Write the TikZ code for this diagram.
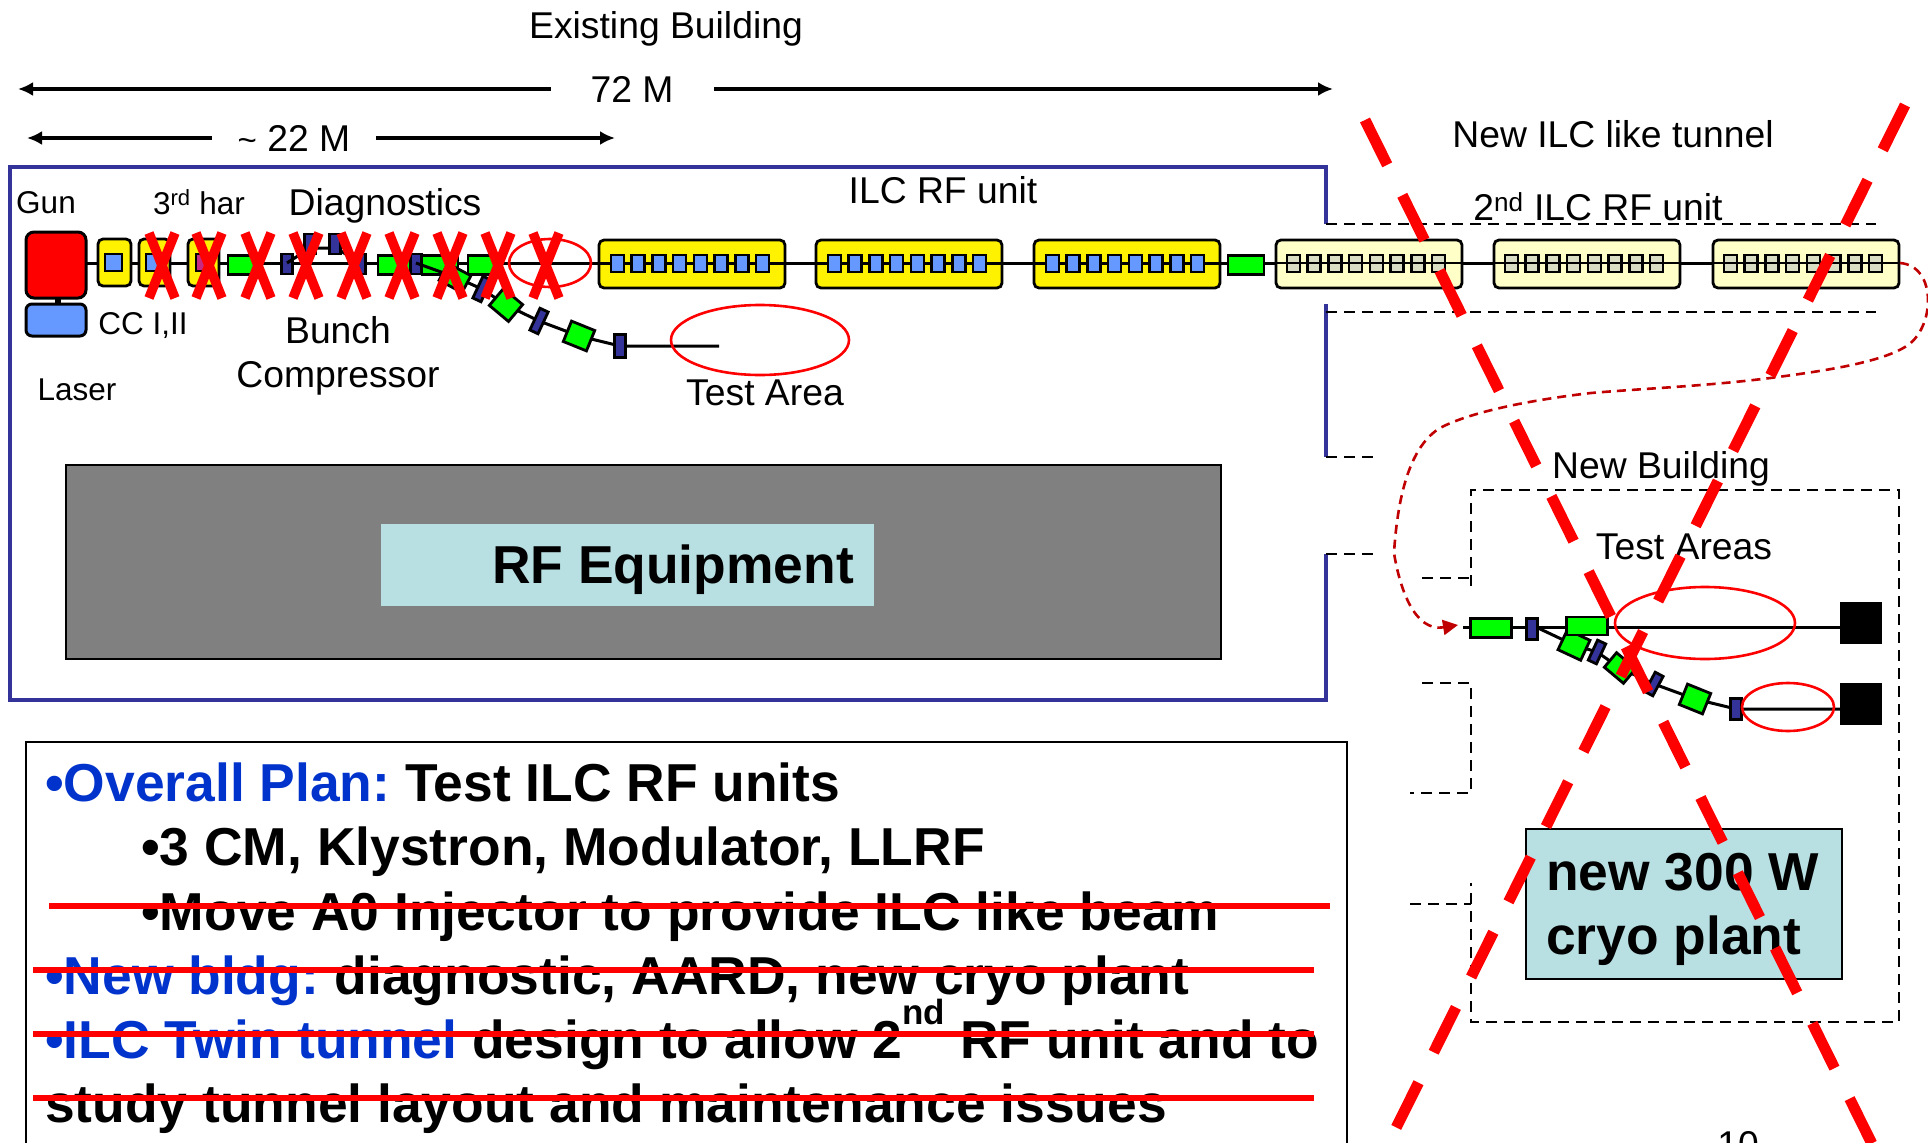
\documentclass[tikz,border=0pt]{standalone}
\usepackage{fontspec}
\setmainfont{Liberation Sans}
\usetikzlibrary{arrows.meta,shapes.geometric}
\definecolor{bluebox}{HTML}{333399}
\definecolor{elblue}{HTML}{333399}
\definecolor{ccblue}{HTML}{6699FF}
\definecolor{teal}{HTML}{B8DFE2}
\definecolor{pale}{HTML}{FFFFC8}
\definecolor{palecellc}{HTML}{D9DDC4}
\definecolor{planblue}{HTML}{0033CC}
\definecolor{darkred}{HTML}{C00000}
\tikzset{
 x=1pt,y=-1pt,
 lab/.style={font=\fontsize{37.3}{40}\selectfont,inner sep=0pt,text=black},
 slab/.style={font=\fontsize{31.5}{35}\selectfont,inner sep=0pt,text=black},
 beam/.style={line width=3pt,black},
 green/.style={draw=black,fill=green,line width=2.8pt,minimum width=26pt,minimum height=19pt,inner sep=0pt},
 mag/.style={draw=black,fill=elblue,line width=2.8pt,minimum width=11pt,minimum height=20pt,inner sep=0pt},
 cav/.style={draw=black,fill=yellow,line width=2.8pt,rounded corners=5pt},
 palecav/.style={draw=black,fill=pale,line width=2.8pt,rounded corners=5pt},
 cell/.style={draw=black,fill=ccblue,line width=2.6pt},
 palecell/.style={draw=black,fill=palecellc,line width=2.6pt},
 wall/.style={draw=bluebox,line width=3.4pt},
 dashw/.style={black,line width=2.4pt,dash pattern=on 11pt off 7pt},
 dim/.style={line width=3.8pt,black},
 ringr/.style={draw=red,line width=2.6pt},
 xmark/.style={red,line width=9.5pt},
 bigx/.style={red,line width=11pt,dash pattern=on 50pt off 34pt},
 strike/.style={red,line width=5.5pt},
 panel/.style={font=\fontsize{53.4}{60}\selectfont\bfseries,inner sep=0pt,anchor=base west},
}
\begin{document}
\begin{tikzpicture}
\useasboundingbox (0,0) rectangle (1928,1143);
\clip (0,0) rectangle (1928,1143);
% walls
\draw[wall] (1326,224) -- (1326,167) -- (10,167) -- (10,700) -- (1326,700) -- (1326,554);
\draw[wall] (1326,304) -- (1326,457);
\draw[dashw] (1326,224) -- (1876,224);
\draw[dashw] (1326,312) -- (1876,312);
\draw[dashw] (1326,457) -- (1380,457);
\draw[dashw] (1326,554) -- (1380,554);
% new building
\draw[dashw] (1422,578) -- (1471,578);
\draw[dashw] (1471,586) -- (1471,490) -- (1899,490) -- (1899,1022) -- (1471,1022) -- (1471,883);
\draw[dashw] (1422,683) -- (1471,683) -- (1471,793) -- (1410,793);
\draw[dashw] (1410,904) -- (1471,904);
% labels
\node[lab] (existing) at (666,29) {Existing Building};
\node[lab] (m72) at (632,89) {72 M};
\coordinate (a1) at (18,89); \coordinate (a2) at (551,89);
\coordinate (a3) at (714,89); \coordinate (a4) at (1333,89);
\draw[dim,{Latex[length=15pt,width=14pt]}-] (a1) -- (a2);
\draw[dim,-{Latex[length=15pt,width=14pt]}] (a3) -- (a4);
\node[lab] (m22) at (294,138) {{\fontsize{33}{36}\selectfont \char`\~} 22 M};
\coordinate (b1) at (27,138); \coordinate (b2) at (212,138);
\coordinate (b3) at (376,138); \coordinate (b4) at (615,138);
\draw[dim,{Latex[length=15pt,width=14pt]}-] (b1) -- (b2);
\draw[dim,-{Latex[length=15pt,width=14pt]}] (b3) -- (b4);
\node[slab] (lgun) at (46,203) {Gun};
\node[slab] (lhar) at (199,202) {3\textsuperscript{rd} har};
\node[lab] (ldiag) at (385,206) {Diagnostics};
\node[lab] (lrf) at (943,190) {ILC RF unit};
\node[lab] (ltun) at (1613,134) {New ILC like tunnel};
\node[lab] (lrf2) at (1598,207) {2\textsuperscript{nd} ILC RF unit};
\node[lab] (lnb) at (1661,469) {New Building};
\node[lab] (lta) at (1684,547) {Test Areas};
\node[slab] (lcc) at (143,326) {CC I,II};
\node[slab] (llas) at (77,390) {Laser};
\node[lab] (lbc1) at (338,330) {Bunch};
\node[lab] (lbc2) at (338,378) {Compressor};
\node[lab] (ltest) at (765,393) {Test Area};
% main beamline
\draw[beam] (86,263) -- (1898,263);
\draw[line width=6pt] (58,298) -- (58,304);
\draw[cav,fill=red,line width=3pt,rounded corners=8pt] (26,232) rectangle (86,298);
\draw[cav,fill=ccblue,line width=3pt,rounded corners=6pt] (26,304) rectangle (86,336);
\draw[cav] (98,239) rectangle (131,286); \draw[cell] (105,254) rectangle (122,271);
\draw[cav] (139,239) rectangle (170,286); \draw[cell] (146,254) rectangle (162,271);
\draw[cav] (188,239) rectangle (219,286); \draw[cell,fill=magenta!80!black] (196,254) rectangle (212,271);
\node[green,minimum width=30pt] (g1) at (243,265) {};
\node[mag] (m1) at (287,264) {};
\coordinate (ch1) at (310,248); \coordinate (ch2) at (336,248);
\draw[beam] (287,263) -- (ch1) -- (ch2) -- (360,263);
\node[mag] (m2) at (310,244) {};
\node[mag] (m3) at (335,244) {};
\node[mag] (m4) at (360,264) {};
\node[green,minimum width=32pt] (g2) at (394,265) {};
\node[green,minimum width=36pt] (g3) at (440,265) {};
\node[mag] (m5) at (416,264) {};
\node[green,minimum width=26pt] (g4) at (481,265) {};
% bend
\coordinate (bc1) at (416,263);
\draw[beam] (bc1) -- (455,277) -- (482,289) -- (506,305) -- (539,321) -- (579,336) -- (620,346) -- (719,346);
\node[green,rotate=-28] (g5) at (455,278) {};
\node[mag,rotate=-25,minimum height=24pt,minimum width=9pt] (m6) at (482,289) {};
\node[green,rotate=-40,minimum width=25pt,minimum height=22pt] (g6) at (506,305) {};
\node[mag,rotate=-25,minimum height=24pt,minimum width=9pt] (m7) at (539,321) {};
\node[green,rotate=-22,minimum width=25pt,minimum height=22pt] (g7) at (579,336) {};
\node[mag,minimum height=23pt] (m8) at (620,346) {};
\draw[ringr] (760,340) ellipse (89 and 35);
\draw[ringr] (550,263) ellipse (41 and 24);
% RF units
\foreach \bx in {599,816,1034}{
 \draw[cav] (\bx,240) rectangle +(186,48);
 \draw[beam] (\bx,263) -- +(186,0);
 \foreach \i in {0,...,7}{\draw[cell] ({\bx+12+\i*20.7},255) rectangle +(13,17);}
}
\node[green,minimum width=36pt] (g8) at (1246,265) {};
\foreach \bx in {1276,1494,1713}{
 \draw[palecav] (\bx,240) rectangle +(186,48);
 \foreach \i in {0,...,7}{\draw[palecell] ({\bx+11+\i*20.7},255) rectangle +(13,17);}
 \draw[line width=2.4pt,black] (\bx,263) -- +(186,0);
}
% test areas
\draw[beam] (1463,627) -- (1840,627);
\draw[beam] (1538,628) -- (1574,645) -- (1597,652) -- (1620,668) -- (1654,684) -- (1695,699) -- (1736,709) -- (1840,709);
\node[green,minimum width=41pt,minimum height=19pt] (t1) at (1491,628) {};
\node[mag,minimum height=21pt] (t2) at (1532,629) {};
\draw[ringr] (1705,623) ellipse (90 and 36);
\node[green,rotate=-25,minimum width=25pt,minimum height=22pt] (t4) at (1574,645) {};
\node[mag,rotate=-25,minimum height=22pt,minimum width=9pt] (t5) at (1597,652) {};
\node[green,rotate=-40,minimum width=25pt,minimum height=19pt] (t6) at (1620,668) {};
\node[mag,rotate=-28,minimum height=22pt,minimum width=9pt] (t7) at (1654,684) {};
\node[green,rotate=-22,minimum width=25pt,minimum height=22pt] (t8) at (1695,699) {};
\node[mag,minimum height=21pt] (t9) at (1736,709) {};
\node[green,minimum width=41pt,minimum height=18pt] (t3) at (1587,626) {};
\draw[ringr] (1788,707) ellipse (46 and 24);
\path[fill=black] (1840,602) rectangle (1882,644);
\path[fill=black] (1840,683) rectangle (1882,725);
% transfer line
\coordinate (tr0) at (1900,263);
\coordinate (tr1) at (1458,625);
\draw[darkred,line width=2.6pt,dash pattern=on 9pt off 6pt,-{Triangle[length=15pt,width=15pt]}] (tr0) .. controls (1938,266) and (1935,330) .. (1905,347) .. controls (1880,362) and (1830,370) .. (1778,377) .. controls (1710,386) and (1650,388) .. (1591,393) .. controls (1530,400) and (1470,412) .. (1440,428) .. controls (1412,445) and (1398,490) .. (1394,553) .. controls (1400,590) and (1415,632) .. (tr1);
% red X marks
\foreach \cx in {162,209,258,306,354,402,450,498,546}{
 \draw[xmark] (\cx-13,233) -- (\cx+13,298);
 \draw[xmark] (\cx+13,233) -- (\cx-13,298);
}
% RF equipment
\path[fill=gray,draw=black,line width=2.8pt] (66,465) rectangle (1221,659);
\path[fill=teal] (381,524) rectangle (874,606);
\node[font=\fontsize{53.4}{60}\selectfont\bfseries,inner sep=0pt] (rfe) at (673,570) {RF Equipment};
% plan
\draw[black,line width=2.6pt] (26,1150) -- (26,742) -- (1347,742) -- (1347,1150);
\node[panel] (p1) at (45,801) {{\color{planblue}•Overall Plan:}\hspace{-5pt} Test ILC RF units};
\node[panel] (p2) at (141,865) {•3 CM, Klystron, Modulator, LLRF};
\node[panel] (p3) at (141,930) {•Move A0 Injector to provide ILC like beam};
\node[panel] (p4) at (45,994) {{\color{planblue}•New bldg:}\hspace{-4pt} diagnostic, AARD, new cryo plant};
\node[panel] (p5) at (45,1058) {{\color{planblue}•ILC Twin tunnel} design to allow 2\raisebox{0.62em}{\fontsize{35}{35}\selectfont nd} RF unit and to};
\node[panel] (p6) at (45,1122) {study tunnel layout and maintenance issues};
\draw[strike] (49,906) -- (1330,906);
\draw[strike] (33,970) -- (1314,970);
\draw[strike] (33,1034) -- (1314,1034);
\draw[strike] (33,1098) -- (1314,1098);
% cryo
\path[fill=teal,draw=black,line width=2.8pt] (1526,829) rectangle (1842,979);
\node[panel] (c1) at (1546,890) {new 300 W};
\node[panel] (c2) at (1546,954) {cryo plant};
% big cross
\draw[bigx] (1365,120) -- (1880,1160);
\draw[bigx] (1905,105) -- (1385,1150);
\node[lab,anchor=north] (pg) at (1738,1131) {10};
\end{tikzpicture}
\end{document}
